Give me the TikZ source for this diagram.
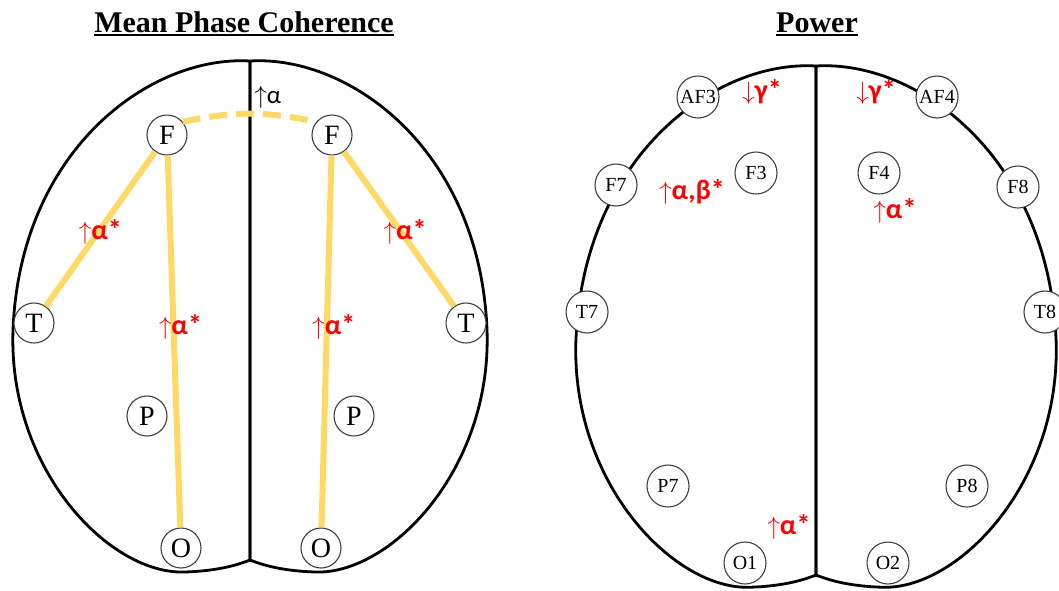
\documentclass[tikz,border=0pt]{standalone}
\usepackage{fontspec}
\setmainfont{Liberation Serif}
\newfontfamily\labelfont{Carlito}
\usepackage{tikz}
\usetikzlibrary{positioning}

\definecolor{fibre}{HTML}{FFD966}
\definecolor{sigred}{HTML}{FF0000}
\newcommand{\incarrow}{{\fontsize{26}{26}\selectfont$\uparrow$}}
\newcommand{\decarrow}{{\fontsize{26}{26}\selectfont$\downarrow$}}
% one hemisphere, top of the midline at the origin
\newcommand{\hemisphere}{%
  \draw[outline] (0,0) .. controls (-100,-6) and (-230,89) .. (-237,269)
    .. controls (-242,409) and (-140,514) .. (-65,511)
    .. controls (-35,510) and (-15,505) .. (0,499) -- cycle;}

\begin{document}
\begin{tikzpicture}[x=1pt, y=-1pt,
    outline/.style={line width=2.8pt, line join=round},
    elec/.style={draw=black!75, line width=1.1pt, circle, fill=white, inner sep=0pt,
                 minimum size=40pt, font=\fontsize{28}{28}\selectfont},
    chan/.style={elec, minimum size=42pt, font=\fontsize{20}{20}\selectfont},
    link/.style={fibre, line width=6pt},
    sig/.style={text=sigred, inner sep=0pt, font=\labelfont\bfseries\fontsize{28}{28}\selectfont},
    heading/.style={inner sep=0pt, text depth=0pt, anchor=base,
                    font=\bfseries\fontsize{30}{30}\selectfont}]
  \useasboundingbox (0,0) rectangle (1059,590);

  % mean phase coherence
  \node[heading] (mpc) at (244,32) {Mean Phase Coherence};
  \draw[line width=2pt] ([yshift=-3pt]mpc.south west) -- ([yshift=-3pt]mpc.south east);
  \begin{scope}[shift={(250,61)}]
    \hemisphere
    \begin{scope}[xscale=-1] \hemisphere \end{scope}
  \end{scope}

  \node[elec] (Fl) at (167,135) {F};
  \node[elec] (Fr) at (332,135) {F};
  \node[elec] (Tl) at (34,323)  {T};
  \node[elec] (Tr) at (466,323) {T};
  \node[elec] (Pl) at (147,416) {P};
  \node[elec] (Pr) at (354,416) {P};
  \node[elec] (Ol) at (181,548) {O};
  \node[elec] (Or) at (321,548) {O};

  \draw[link] (Fl) -- node[sig, pos=.52, xshift=2pt] {\incarrow α*} (Tl);
  \draw[link] (Fl) -- node[sig, pos=.46, xshift=7pt] {\incarrow α*} (Ol);
  \draw[link] (Fr) -- node[sig, pos=.46, xshift=7pt] {\incarrow α*} (Or);
  \draw[link] (Fr) -- node[sig, pos=.52, xshift=4pt] {\incarrow α*} (Tr);
  \draw[link, dash pattern=on 18pt off 9pt] (Fl.40) to[bend left=12]
    node[pos=.5, anchor=south west, inner sep=2pt, text=black,
         font=\labelfont\fontsize{25}{25}\selectfont] {{\fontsize{23}{23}\selectfont$\uparrow$}α} (Fr.140);

  % power
  \node[heading] (pow) at (817,32) {Power};
  \draw[line width=2pt] ([yshift=-3pt]pow.south west) -- ([yshift=-3pt]pow.south east);
  \begin{scope}[shift={(816,66)}, xscale=1.013, yscale=1.02]
    \hemisphere
    \begin{scope}[xscale=-1] \hemisphere \end{scope}
  \end{scope}

  \node[chan] (AF3) at (698,97)  {AF3};
  \node[chan] (AF4) at (937,97)  {AF4};
  \node[chan] (F7)  at (616,185) {F7};
  \node[chan] (F8)  at (1018,187) {F8};
  \node[chan] (F3)  at (756,173) {F3};
  \node[chan] (F4)  at (879,173) {F4};
  \node[chan] (T7)  at (587,312) {T7};
  \node[chan] (T8)  at (1045,312) {T8};
  \node[chan] (P7)  at (668,486) {P7};
  \node[chan] (P8)  at (967,486) {P8};
  \node[chan] (O1)  at (745,563) {O1};
  \node[chan] (O2)  at (888,563) {O2};

  \node[sig] (gam3) at (762,92)  {\decarrow γ*};
  \node[sig] (gam4) at (876,92)  {\decarrow γ*};
  \node[sig] (alb3) at (692,192) {\incarrow α,β*};
  \node[sig] (alp4) at (895,211) {\incarrow α*};
  \node[sig] (alpo) at (789,527) {\incarrow α*};
\end{tikzpicture}
\end{document}
